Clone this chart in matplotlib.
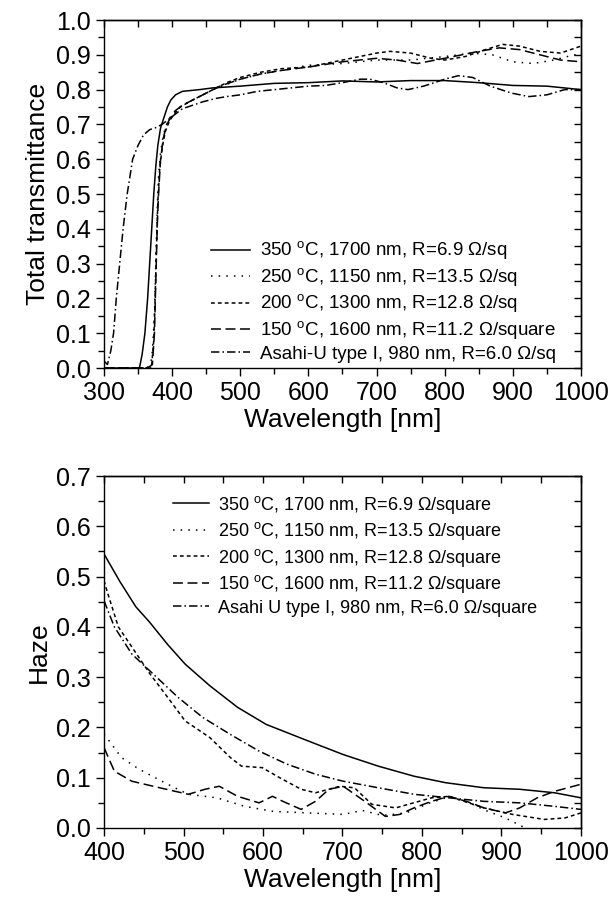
import matplotlib
matplotlib.use("Agg")
import matplotlib.pyplot as plt
from matplotlib.ticker import MultipleLocator

plt.rcParams['font.family'] = ['Liberation Sans', 'DejaVu Sans']
plt.rcParams['mathtext.fontset'] = 'custom'
plt.rcParams['mathtext.rm'] = 'Liberation Sans'
plt.rcParams['axes.linewidth'] = 1.0

# ---- Total transmittance (top panel) ----
t350_wl = [300, 340, 352, 356, 360, 364, 367, 370, 373, 376, 379, 383, 388, 393, 398, 405, 415,
           440, 460, 500, 550, 600, 650, 700, 750, 800, 850, 900, 950, 1000]
t350 = [0.0, 0.0, 0.0, 0.04, 0.1, 0.2, 0.3, 0.4, 0.5, 0.58, 0.64, 0.69, 0.72, 0.75, 0.77, 0.785, 0.795,
        0.80, 0.805, 0.81, 0.818, 0.82, 0.825, 0.822, 0.826, 0.826, 0.82, 0.812, 0.81, 0.80]

t250_wl = [300, 360, 368, 371, 374, 376, 378, 380, 383, 387, 392, 398, 405, 415, 425, 440, 460, 480,
           500, 530, 560, 600, 650, 700, 750, 800, 840, 870, 900, 930, 960, 990, 1000]
t250 = [0.0, 0.0, 0.0, 0.05, 0.15, 0.3, 0.45, 0.55, 0.62, 0.67, 0.70, 0.725, 0.74, 0.755, 0.765, 0.78,
        0.80, 0.815, 0.83, 0.845, 0.855, 0.87, 0.875, 0.885, 0.885, 0.895, 0.905, 0.90, 0.88, 0.875,
        0.885, 0.90, 0.90]

t200_wl = [300, 362, 370, 373, 375, 377, 379, 382, 386, 390, 396, 403, 412, 425, 440, 460, 480, 500,
           530, 560, 600, 650, 700, 720, 750, 780, 800, 830, 860, 885, 910, 940, 970, 1000]
t200 = [0.0, 0.0, 0.01, 0.08, 0.2, 0.35, 0.48, 0.58, 0.64, 0.68, 0.71, 0.73, 0.75, 0.765, 0.78, 0.80,
        0.82, 0.835, 0.85, 0.86, 0.865, 0.885, 0.905, 0.91, 0.905, 0.89, 0.885, 0.895, 0.915, 0.93,
        0.925, 0.91, 0.905, 0.925]

t150_wl = [300, 364, 371, 374, 376, 378, 380, 383, 387, 392, 398, 405, 415, 430, 450, 470, 500, 530,
           560, 600, 650, 700, 730, 760, 800, 850, 880, 910, 940, 970, 1000]
t150 = [0.0, 0.0, 0.01, 0.1, 0.25, 0.4, 0.5, 0.6, 0.66, 0.70, 0.72, 0.74, 0.755, 0.77, 0.79, 0.81,
        0.83, 0.845, 0.855, 0.865, 0.88, 0.89, 0.885, 0.875, 0.89, 0.91, 0.92, 0.915, 0.90, 0.885, 0.88]

tas_wl = [300, 305, 310, 314, 318, 323, 328, 334, 342, 350, 358, 367, 375, 385, 395, 405, 415, 430,
          445, 465, 480, 500, 525, 550, 575, 600, 625, 650, 676, 690, 710, 730, 746, 769, 785, 800,
          820, 841, 867, 898, 924, 950, 976, 1000]
tas = [0.02, 0.01, 0.05, 0.1, 0.2, 0.3, 0.4, 0.5, 0.6, 0.64, 0.67, 0.685, 0.69, 0.70, 0.715, 0.73,
       0.745, 0.755, 0.765, 0.775, 0.78, 0.785, 0.795, 0.80, 0.805, 0.81, 0.812, 0.82, 0.83, 0.83,
       0.82, 0.805, 0.80, 0.81, 0.82, 0.83, 0.84, 0.835, 0.81, 0.79, 0.78, 0.785, 0.80, 0.80]

# ---- Haze (bottom panel) ----
h350_wl = [400, 420, 440, 457, 480, 502, 533, 568, 604, 657, 701, 745, 790, 830, 878, 923, 967, 1000]
h350 = [0.545, 0.49, 0.44, 0.41, 0.365, 0.326, 0.283, 0.24, 0.206, 0.173, 0.146, 0.123, 0.103, 0.09,
        0.08, 0.077, 0.07, 0.06]

h250_wl = [400, 422, 444, 480, 506, 542, 577, 613, 657, 701, 725, 750, 780, 810, 834, 860, 880, 905,
           930, 960, 1000]
h250 = [0.187, 0.14, 0.117, 0.087, 0.067, 0.06, 0.043, 0.033, 0.03, 0.027, 0.035, 0.025, 0.03, 0.05,
        0.062, 0.05, 0.035, 0.02, 0.0, -0.01, -0.01]

h200_wl = [400, 404, 418, 435, 458, 480, 502, 533, 559, 573, 599, 621, 648, 666, 697, 715, 737, 767,
           812, 834, 878, 914, 954, 980, 1000]
h200 = [0.492, 0.47, 0.40, 0.36, 0.306, 0.26, 0.213, 0.18, 0.14, 0.123, 0.12, 0.10, 0.077, 0.07,
        0.083, 0.08, 0.047, 0.04, 0.06, 0.063, 0.04, 0.027, 0.017, 0.02, 0.03]

h150_wl = [400, 413, 435, 470, 506, 527, 545, 568, 595, 612, 625, 648, 666, 683, 701, 728, 754, 772,
           790, 812, 834, 856, 878, 905, 923, 945, 967, 1000]
h150 = [0.16, 0.113, 0.093, 0.08, 0.067, 0.077, 0.083, 0.063, 0.05, 0.063, 0.053, 0.037, 0.053,
        0.077, 0.083, 0.053, 0.023, 0.027, 0.04, 0.053, 0.063, 0.053, 0.04, 0.03, 0.04, 0.06, 0.073,
        0.087]

has_wl = [400, 413, 435, 462, 493, 524, 559, 595, 630, 666, 701, 745, 790, 834, 878, 923, 967, 1000]
has = [0.452, 0.40, 0.346, 0.306, 0.26, 0.22, 0.186, 0.153, 0.127, 0.107, 0.093, 0.08, 0.067, 0.06,
       0.053, 0.05, 0.043, 0.037]

top_labels = [r"350 $^{\mathrm{o}}$C, 1700 nm, R=6.9 Ω/sq",
              r"250 $^{\mathrm{o}}$C, 1150 nm, R=13.5 Ω/sq",
              r"200 $^{\mathrm{o}}$C, 1300 nm, R=12.8 Ω/sq",
              r"150 $^{\mathrm{o}}$C, 1600 nm, R=11.2 Ω/square",
              r"Asahi-U type I, 980 nm, R=6.0 Ω/sq"]
bot_labels = [r"350 $^{\mathrm{o}}$C, 1700 nm, R=6.9 Ω/square",
              r"250 $^{\mathrm{o}}$C, 1150 nm, R=13.5 Ω/square",
              r"200 $^{\mathrm{o}}$C, 1300 nm, R=12.8 Ω/square",
              r"150 $^{\mathrm{o}}$C, 1600 nm, R=11.2 Ω/square",
              r"Asahi U type I, 980 nm, R=6.0 Ω/square"]

styles = ['-', (0, (1, 4)), (0, (2.5, 2)), (0, (6.5, 3)), (0, (5.5, 2, 1, 2))]


def style_axes(ax, xmin, xmax, ymax):
    ax.set_xlim(xmin, xmax)
    ax.set_ylim(0, ymax)
    ax.xaxis.set_major_locator(MultipleLocator(100))
    ax.xaxis.set_minor_locator(MultipleLocator(50))
    ax.yaxis.set_major_locator(MultipleLocator(0.1))
    ax.yaxis.set_minor_locator(MultipleLocator(0.05))
    ax.yaxis.set_major_formatter(lambda v, p: f"{v:.1f}")
    ax.tick_params(which='both', direction='out', labelsize=18, width=1.0)
    ax.tick_params(which='major', length=6)
    ax.tick_params(which='minor', length=4)
    sx = ax.secondary_xaxis('top')
    sx.xaxis.set_major_locator(MultipleLocator(100))
    sx.xaxis.set_minor_locator(MultipleLocator(50))
    sx.tick_params(which='both', direction='in', labeltop=False, length=5, width=1.0)
    sy = ax.secondary_yaxis('right')
    sy.yaxis.set_major_locator(MultipleLocator(0.1))
    sy.yaxis.set_minor_locator(MultipleLocator(0.05))
    sy.tick_params(which='both', direction='in', labelright=False, length=5, width=1.0)
    ax.set_xlabel("Wavelength [nm]", fontsize=19, labelpad=2)


fig = plt.figure(figsize=(6.13, 9.06), dpi=100)
ax1 = fig.add_axes([0.1697, 0.5938, 0.778, 0.3841])
ax2 = fig.add_axes([0.1697, 0.0861, 0.778, 0.3885])

top_series = [(t350_wl, t350), (t250_wl, t250), (t200_wl, t200), (t150_wl, t150), (tas_wl, tas)]
for (wl, v), ls, lab in zip(top_series, styles, top_labels):
    ax1.plot(wl, v, color='black', lw=1.1, linestyle=ls, label=lab)
style_axes(ax1, 300, 1000, 1.0)
ax1.set_ylabel("Total transmittance", fontsize=19)
ax1.legend(loc='lower right', bbox_to_anchor=(0.955, 0.005), frameon=False, fontsize=13.5,
           handlelength=2.1, handletextpad=0.5, labelspacing=0.2, borderaxespad=0, borderpad=0.2)

bot_series = [(h350_wl, h350), (h250_wl, h250), (h200_wl, h200), (h150_wl, h150), (has_wl, has)]
for (wl, v), ls, lab in zip(bot_series, styles, bot_labels):
    ax2.plot(wl, v, color='black', lw=1.1, linestyle=ls, label=lab)
style_axes(ax2, 400, 1000, 0.7)
ax2.set_ylabel("Haze", fontsize=19)
ax2.legend(loc='upper right', bbox_to_anchor=(0.915, 0.96), frameon=False, fontsize=13,
           handlelength=2.0, handletextpad=0.5, labelspacing=0.25, borderaxespad=0, borderpad=0.2)

fig.savefig("out.png", dpi=100)
